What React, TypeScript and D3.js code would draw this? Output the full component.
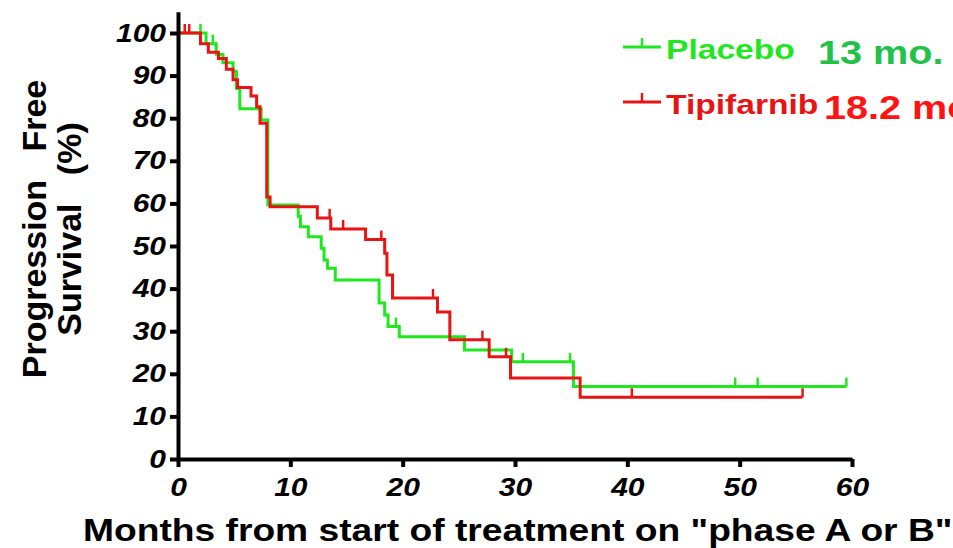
import { useEffect, useRef } from "react"
import * as d3 from "d3"

// Kaplan-Meier steps (months, % progression free)
const placeboTimes = [0, 2.5, 3.4, 4.0, 4.9, 5.2, 5.5, 7.4, 8.0, 10.7, 10.9, 11.6, 12.75, 13.0, 13.3, 14.0, 17.9, 18.4, 18.7, 19.7, 25.5, 29.7, 35.2]
const placeboSurv = [100, 97.5, 95, 93, 91, 87, 82.2, 79.6, 59.6, 57, 54.5, 52.2, 49.5, 46.7, 44.8, 42, 36.6, 33.8, 31.1, 28.7, 25.6, 22.8, 17]
const placeboEnd = 59.5
const placeboCensored = [2.0, 3.1, 19.4, 30.7, 34.9, 49.6, 51.6, 59.5]

const tipiTimes = [0, 2.0, 2.7, 3.6, 4.3, 4.9, 5.3, 6.5, 7.0, 7.3, 7.9, 8.2, 12.4, 13.6, 16.7, 18.4, 18.6, 19.1, 23.1, 24.2, 27.7, 29.6, 35.8]
const tipiSurv = [100, 97.5, 95.5, 94, 91.5, 89, 87.2, 85.2, 82.7, 78.8, 61.5, 59.2, 56.6, 54, 51.5, 48.3, 43.2, 37.8, 34.5, 28, 24, 19, 14.5]
const tipiEnd = 55.6
const tipiCensored = [0.6, 1.0, 13.5, 14.7, 18.1, 22.7, 27.1, 29.2, 40.4, 55.6]

const xTicks = [0, 10, 20, 30, 40, 50, 60]
const yTicks = [0, 10, 20, 30, 40, 50, 60, 70, 80, 90, 100]

const legendNames = ["Placebo", "Tipifarnib"]
const legendMedians = ["13 mo.", "18.2 mo."]

const GREEN = "#1fe81f"
const RED = "#e81414"
const FONT = "'Liberation Sans', Arial, sans-serif"
const STRETCH = 1.2

const App = () => {
  const svgRef = useRef<SVGSVGElement>(null)

  useEffect(() => {
    const svg = d3.select(svgRef.current)
    svg.selectAll("*").remove()

    const x = d3.scaleLinear().domain([0, 60]).range([178, 852])
    const y = d3.scaleLinear().domain([0, 105]).range([459, 459 - 105 * 4.26])

    const series = [
      { times: placeboTimes, surv: placeboSurv, end: placeboEnd, cens: placeboCensored, color: GREEN },
      { times: tipiTimes, surv: tipiSurv, end: tipiEnd, cens: tipiCensored, color: RED },
    ]

    const line = d3
      .line<[number, number]>()
      .x((d) => x(d[0]))
      .y((d) => y(d[1]))
      .curve(d3.curveStepAfter)

    series.forEach((s) => {
      const pts: [number, number][] = s.times.map((t, i) => [t, s.surv[i]])
      pts.push([s.end, s.surv[s.surv.length - 1]])
      svg
        .append("path")
        .datum(pts)
        .attr("fill", "none")
        .attr("stroke", s.color)
        .attr("stroke-width", 3)
        .attr("d", line)

      // censor marks
      const survAt = (t: number) => {
        let v = s.surv[0]
        s.times.forEach((tt, i) => {
          if (tt <= t) v = s.surv[i]
        })
        return v
      }
      svg
        .append("g")
        .selectAll("line")
        .data(s.cens)
        .join("line")
        .attr("x1", (d) => x(d))
        .attr("x2", (d) => x(d))
        .attr("y1", (d) => y(survAt(d)))
        .attr("y2", (d) => y(survAt(d)) - 9)
        .attr("stroke", s.color)
        .attr("stroke-width", 2.5)
    })

    // axes
    const xAxis = svg
      .append("g")
      .attr("transform", `translate(0,${y(0)})`)
      .call(d3.axisBottom(x).tickValues(xTicks).tickSize(8).tickSizeOuter(0).tickPadding(11))
    const yAxis = svg
      .append("g")
      .attr("transform", `translate(${x(0)},0)`)
      .call(d3.axisLeft(y).tickValues(yTicks).tickSize(8).tickSizeOuter(0).tickPadding(2))

    ;[xAxis, yAxis].forEach((a) => {
      a.select(".domain").attr("stroke", "#000").attr("stroke-width", 4)
      a.selectAll(".tick line").attr("stroke", "#000").attr("stroke-width", 4)
      a.selectAll(".tick text")
        .attr("fill", "#000")
        .style("font-family", FONT)
        .style("font-size", "25px")
        .style("font-weight", "bold")
        .style("font-style", "italic")
        .attr("transform", `scale(${STRETCH},1)`)
    })

    // axis titles
    svg
      .append("text")
      .attr("transform", `translate(83,541) scale(${STRETCH},1)`)
      .style("font-family", FONT)
      .style("font-size", "31px")
      .style("font-weight", "bold")
      .attr("fill", "#000")
      .text('Months from start of treatment on "phase A or B"')

    const yTitle = ["Progression   Free", "Survival   (%)"]
    yTitle.forEach((t, i) => {
      svg
        .append("text")
        .attr("transform", `translate(${46 + i * 35},229) rotate(-90) scale(1,0.95)`)
        .attr("text-anchor", "middle")
        .style("font-family", FONT)
        .style("font-size", "34px")
        .style("font-weight", "bold")
        .style("white-space", "pre")
        .attr("fill", "#000")
        .text(t)
    })

    // legend
    const medianColors = ["#22c24a", "#ff1212"]
    const medianX = [818, 824]
    series.forEach((s, i) => {
      const ly = 47 + i * 55
      const g = svg.append("g")
      g.append("line")
        .attr("x1", 623).attr("x2", 661).attr("y1", ly).attr("y2", ly)
        .attr("stroke", s.color).attr("stroke-width", 3)
      g.append("line")
        .attr("x1", 642).attr("x2", 642).attr("y1", ly).attr("y2", ly - 9)
        .attr("stroke", s.color).attr("stroke-width", 2.5)
      g.append("text")
        .attr("transform", `translate(666,${ly + 12}) scale(${STRETCH},1)`)
        .style("font-family", FONT)
        .style("font-size", "28px")
        .style("font-weight", "bold")
        .attr("fill", s.color)
        .text(legendNames[i])
      g.append("text")
        .attr("transform", `translate(${medianX[i]},${ly + 17}) scale(${STRETCH},1)`)
        .style("font-family", FONT)
        .style("font-size", "33px")
        .style("font-weight", "bold")
        .attr("fill", medianColors[i])
        .text(legendMedians[i])
    })
  }, [])

  return (
    <svg
      ref={svgRef}
      width={953}
      height={548}
      style={{ position: "absolute", left: 0, top: 0, background: "#fff" }}
    ></svg>
  )
}

export default App
